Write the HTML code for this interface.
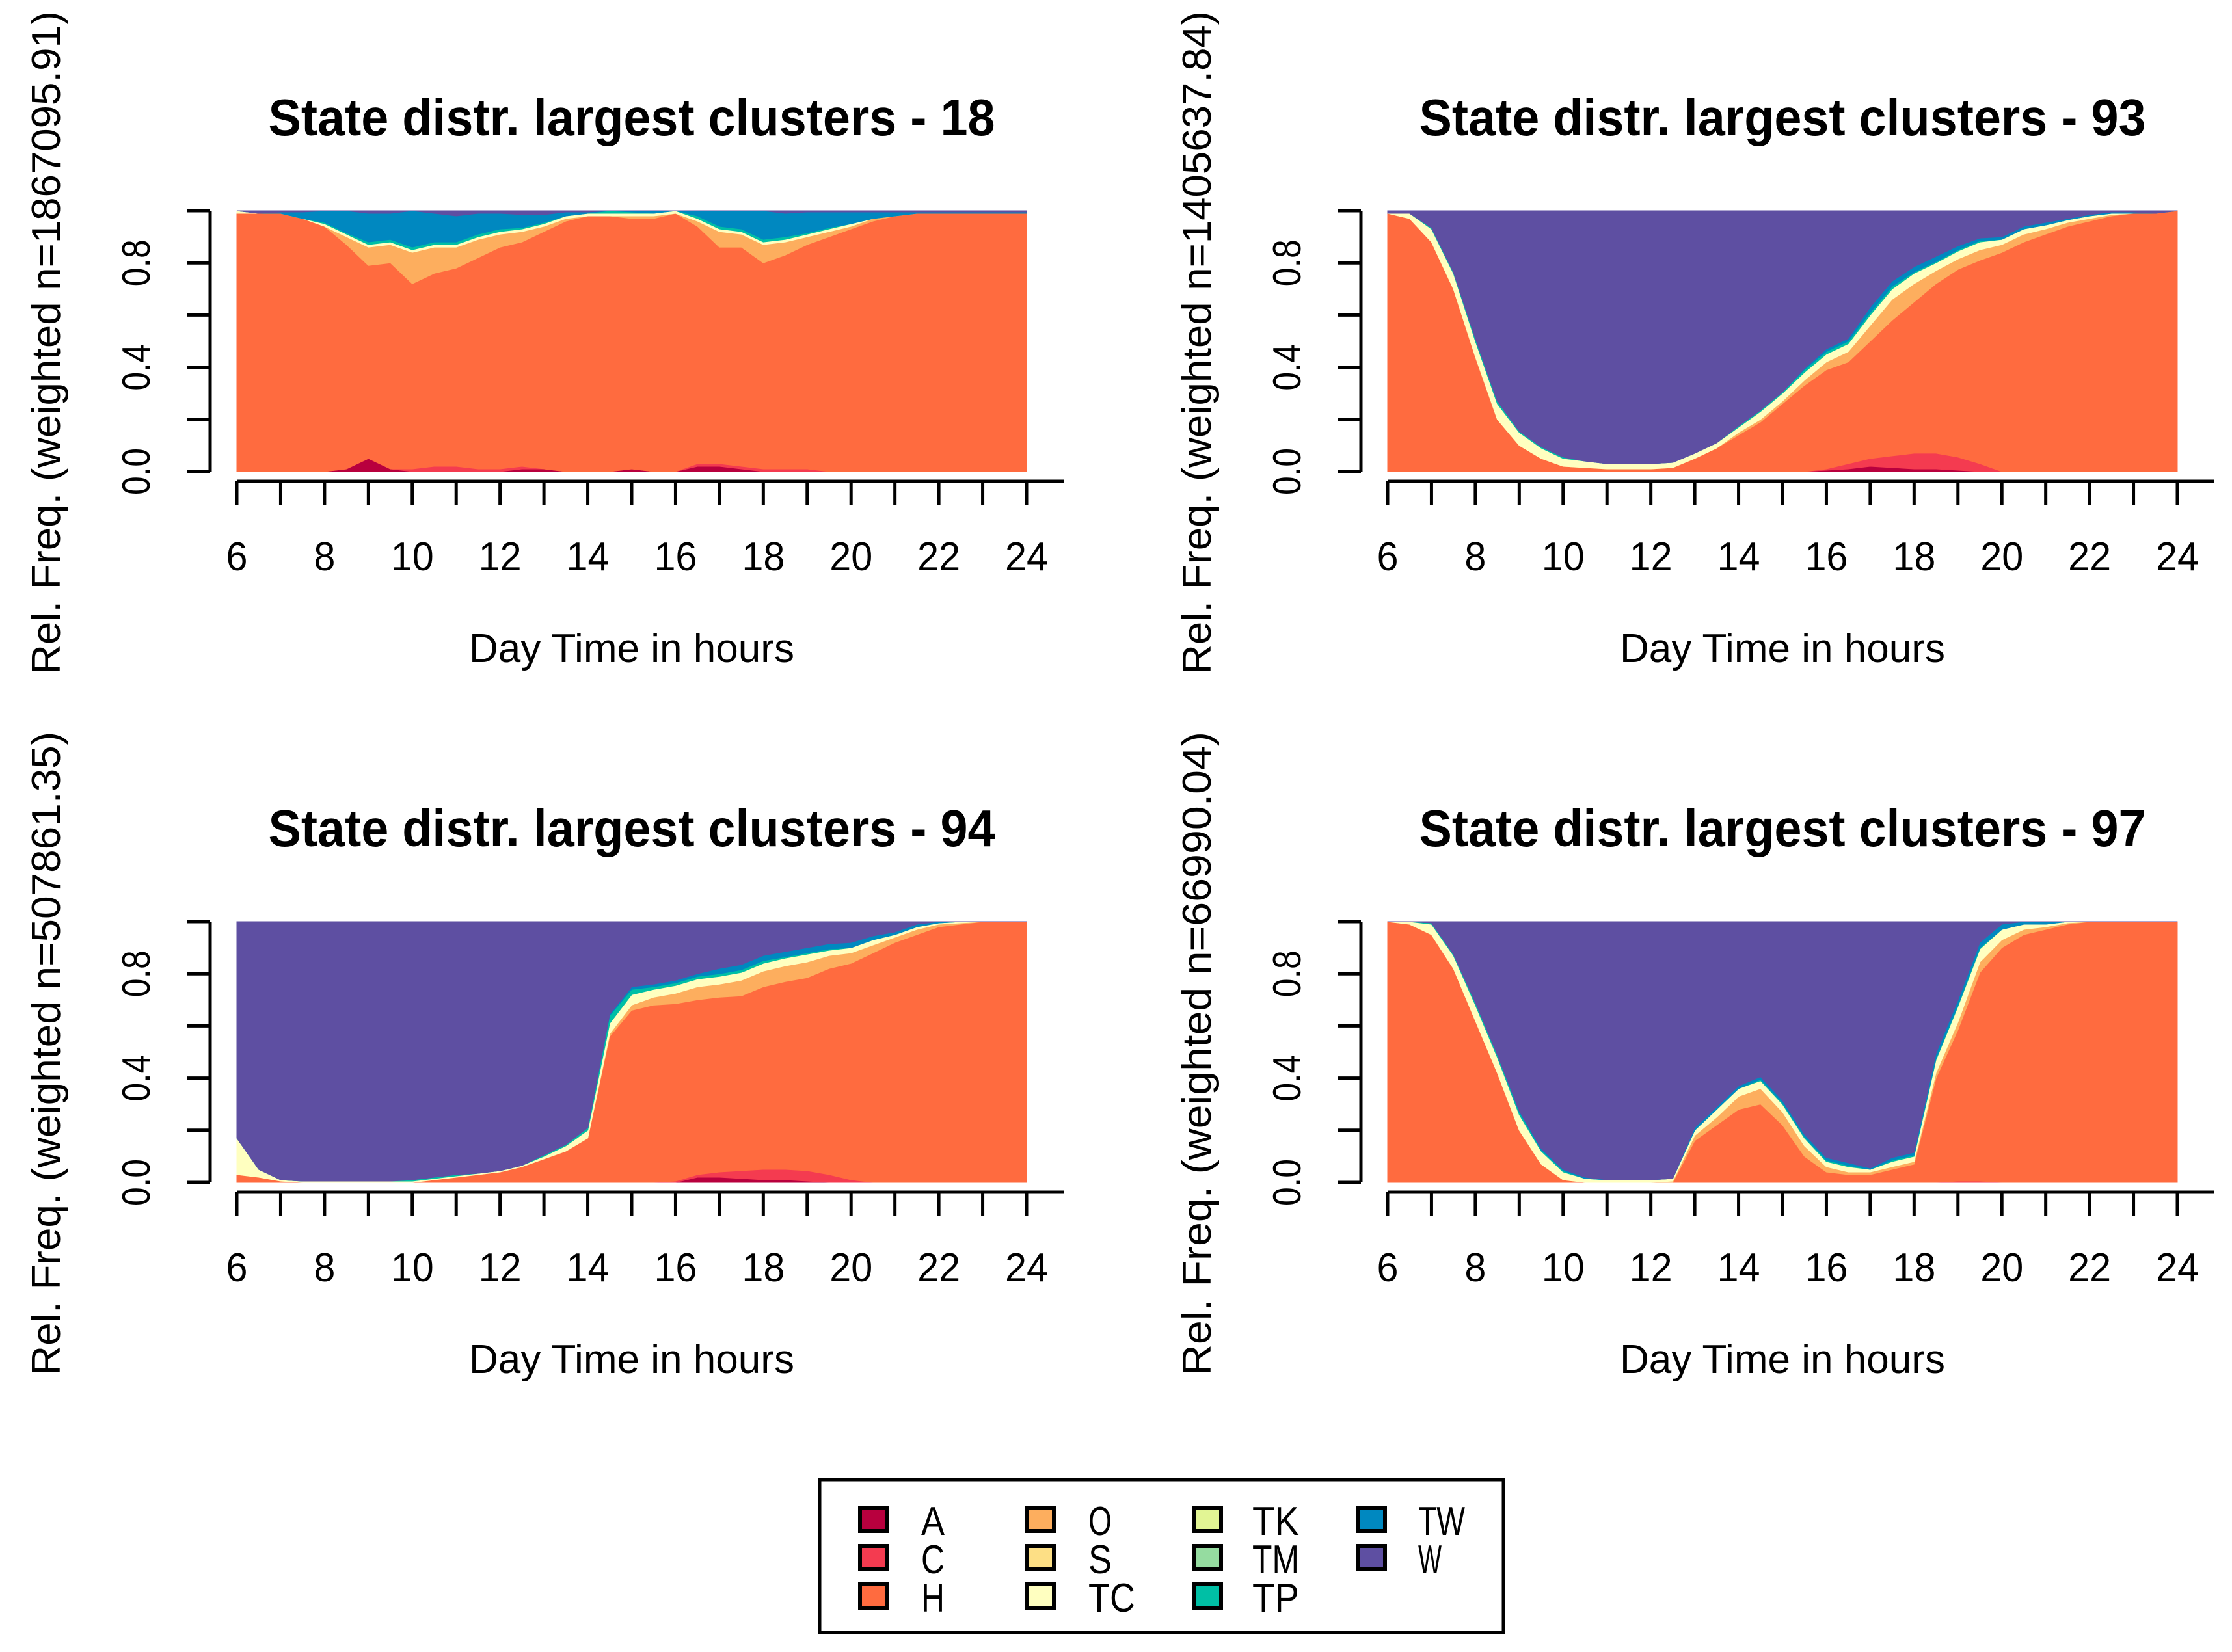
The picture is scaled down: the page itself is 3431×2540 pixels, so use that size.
<!DOCTYPE html>
<html><head><meta charset="utf-8">
<style>
html,body{margin:0;padding:0;background:#fff;}
svg{display:block;font-family:"Liberation Sans",sans-serif;}
</style></head>
<body>
<svg id="chart" width="3431" height="2540" viewBox="0 0 3431 2540" xmlns="http://www.w3.org/2000/svg">
<rect width="3431" height="2540" fill="#fff"/>
<g id="panels"></g>
<g id="legend"></g>
</svg>
<script>
// shared time grid (hours)
const hours = [6,6.5,7,7.5,8,8.5,9,9.5,10,10.5,11,11.5,12,12.5,13,13.5,14,14.5,15,15.5,16,16.5,17,17.5,18,18.5,19,19.5,20,20.5,21,21.5,22,22.5,23,23.5,24];
const xTicks = [6,7,8,9,10,11,12,13,14,15,16,17,18,19,20,21,22,23,24];
const xTickLabels = ["6","8","10","12","14","16","18","20","22","24"];
const yTicks = [0,0.2,0.4,0.6,0.8,1.0];
const yTickLabels = ["0.0","0.4","0.8"];
const states = ["A","C","H","O","S","TC","TK","TM","TP","TW","W"];
const stateColors = ["#B8003E","#F43B50","#FF6B3F","#FDAE5E","#FDDF85","#FFFFC0","#E2F594","#95DCA0","#00BFA5","#0088C0","#5E4FA2"];
const panelTitles = ["State distr. largest clusters - 18","State distr. largest clusters - 93","State distr. largest clusters - 94","State distr. largest clusters - 97"];
const panelYTitles = ["Rel. Freq. (weighted n=1867095.91)","Rel. Freq. (weighted n=1405637.84)","Rel. Freq. (weighted n=507861.35)","Rel. Freq. (weighted n=66990.04)"];

// Cluster 18
const c18_A = [0,0,0,0,0,0.01,0.05,0.01,0,0,0,0,0,0.01,0.01,0,0,0,0.01,0,0,0.02,0.02,0.01,0,0,0,0,0,0,0,0,0,0,0,0,0];
const c18_C = [0,0,0,0,0,0,0,0,0.01,0.02,0.02,0.01,0.01,0.01,0,0,0,0,0,0,0,0.01,0.01,0.01,0.01,0.01,0.01,0,0,0,0,0,0,0,0,0,0];
const c18_H = [0.99,0.99,0.99,0.97,0.94,0.86,0.74,0.79,0.71,0.74,0.76,0.81,0.85,0.86,0.91,0.96,0.98,0.98,0.96,0.97,0.99,0.91,0.83,0.84,0.79,0.82,0.86,0.9,0.93,0.96,0.98,0.99,0.99,0.99,0.99,0.99,0.99];
const c18_O = [0,0,0,0,0,0.03,0.07,0.07,0.12,0.1,0.08,0.07,0.05,0.04,0.02,0.01,0,0,0.01,0.01,0,0.02,0.06,0.05,0.07,0.05,0.03,0.02,0.01,0.01,0,0,0,0,0,0,0];
const c18_TC = [0.01,0,0,0,0.01,0.01,0.01,0.01,0.01,0.01,0.01,0.01,0.01,0.01,0.01,0.01,0.01,0.01,0.01,0.01,0.01,0.01,0.01,0.01,0.01,0.01,0.01,0.01,0.01,0,0,0,0,0,0,0,0];
const c18_TP = [0,0,0,0,0.005,0.005,0.01,0.01,0.01,0.01,0.01,0.01,0.01,0.005,0.005,0,0,0.01,0.005,0,0,0.01,0.01,0.01,0.01,0.01,0.005,0.005,0,0,0,0,0,0,0,0,0];
const c18_TW = [0,0,0.005,0.025,0.045,0.085,0.11,0.1,0.14,0.11,0.1,0.08,0.06,0.05,0.03,0.015,0.005,0.005,0.01,0.01,0,0.03,0.07,0.07,0.11,0.09,0.08,0.06,0.045,0.025,0.015,0.005,0.005,0.005,0.005,0.005,0.005];
// Cluster 93
const c93_A = [0,0,0,0,0,0,0,0,0,0,0,0,0,0,0,0,0,0,0,0,0.005,0.01,0.02,0.015,0.01,0.01,0.005,0,0,0,0,0,0,0,0,0,0];
const c93_C = [0,0,0,0,0,0,0,0,0,0,0,0,0,0,0,0,0,0,0,0,0.005,0.02,0.03,0.045,0.06,0.06,0.05,0.03,0,0,0,0,0,0,0,0,0];
const c93_H = [0.99,0.97,0.88,0.7,0.44,0.2,0.1,0.05,0.02,0.015,0.01,0.01,0.01,0.015,0.05,0.09,0.14,0.19,0.26,0.33,0.38,0.39,0.45,0.52,0.58,0.65,0.72,0.78,0.84,0.88,0.91,0.94,0.96,0.98,0.99,0.99,1];
const c93_O = [0,0,0,0,0,0,0,0,0,0,0,0,0,0,0,0,0.01,0.01,0.01,0.02,0.03,0.04,0.06,0.08,0.07,0.05,0.04,0.04,0.03,0.03,0.02,0.015,0.01,0.005,0,0,0];
const c93_TC = [0,0.02,0.05,0.06,0.06,0.06,0.05,0.04,0.03,0.025,0.02,0.02,0.02,0.02,0.02,0.02,0.02,0.03,0.03,0.03,0.03,0.03,0.04,0.04,0.04,0.03,0.03,0.03,0.02,0.02,0.015,0.01,0.01,0.005,0,0,0];
const c93_TP = [0,0,0.005,0.005,0.01,0.01,0.005,0.005,0.005,0,0,0,0,0,0,0,0.005,0.005,0.005,0.01,0.01,0.01,0.01,0.01,0.005,0.005,0.005,0.005,0,0,0,0,0,0,0,0,0];
const c93_TW = [0,0,0,0,0,0,0,0,0,0,0,0,0,0,0,0,0,0,0,0.005,0.01,0.01,0.02,0.02,0.02,0.02,0.015,0.01,0.01,0.01,0.01,0.005,0.005,0.005,0.005,0,0];
// Cluster 94
const c94_A = [0,0,0,0,0,0,0,0,0,0,0,0,0,0,0,0,0,0,0,0,0,0.02,0.02,0.015,0.01,0.01,0.005,0,0,0,0,0,0,0,0,0,0];
const c94_C = [0,0,0,0,0,0,0,0,0,0,0,0,0,0,0,0,0,0,0,0,0.005,0.01,0.02,0.03,0.04,0.04,0.04,0.03,0.01,0,0,0,0,0,0,0,0];
const c94_H = [0.03,0.02,0.005,0,0,0,0,0,0,0.01,0.02,0.03,0.04,0.06,0.09,0.12,0.17,0.56,0.66,0.68,0.68,0.67,0.67,0.67,0.7,0.72,0.74,0.79,0.83,0.88,0.92,0.95,0.98,0.99,1,1,1];
const c94_O = [0,0,0,0,0,0,0,0,0,0,0,0,0,0,0,0,0,0.01,0.02,0.03,0.04,0.05,0.05,0.06,0.06,0.06,0.06,0.05,0.04,0.03,0.02,0.02,0.01,0.005,0,0,0];
const c94_TC = [0.14,0.03,0.005,0.005,0.005,0.005,0.005,0.005,0.005,0.005,0.005,0.005,0.005,0.005,0.01,0.02,0.03,0.04,0.04,0.03,0.03,0.03,0.03,0.03,0.03,0.03,0.03,0.02,0.02,0.02,0.01,0.01,0.005,0.005,0,0,0];
const c94_TP = [0,0,0,0,0,0,0,0,0.005,0.005,0.005,0,0,0,0.005,0.005,0.01,0.03,0.02,0.01,0.01,0.01,0.01,0.01,0.01,0.005,0.005,0.005,0,0,0,0,0,0,0,0,0];
const c94_TW = [0,0,0,0,0,0,0,0,0,0,0,0,0,0,0,0,0,0.005,0.01,0.01,0.01,0.01,0.02,0.02,0.02,0.02,0.02,0.02,0.02,0.015,0.01,0.01,0.005,0.005,0,0,0];
// Cluster 97
const c97_A = [0,0,0,0,0,0,0,0,0,0,0,0,0,0,0,0,0,0,0,0,0,0,0,0,0,0,0,0,0,0,0,0,0,0,0,0,0];
const c97_C = [0,0,0,0,0,0,0,0,0,0,0,0,0,0,0,0,0,0,0,0,0,0,0,0,0,0,0.005,0.005,0,0,0,0,0,0,0,0,0];
const c97_H = [1,0.99,0.95,0.82,0.62,0.42,0.2,0.07,0.01,0,0,0,0,0,0.16,0.22,0.28,0.3,0.22,0.1,0.04,0.03,0.03,0.05,0.07,0.4,0.58,0.8,0.9,0.95,0.97,0.99,1,1,1,1,1];
const c97_O = [0,0,0,0,0,0,0,0,0,0,0,0,0,0.005,0.02,0.03,0.05,0.06,0.05,0.04,0.02,0.01,0.01,0.01,0.01,0.02,0.03,0.04,0.03,0.02,0.01,0.005,0,0,0,0,0];
const c97_TC = [0,0.01,0.04,0.05,0.06,0.06,0.06,0.05,0.03,0.015,0.01,0.01,0.01,0.01,0.02,0.03,0.03,0.03,0.03,0.03,0.02,0.02,0.01,0.02,0.02,0.05,0.06,0.05,0.04,0.02,0.01,0.005,0,0,0,0,0];
const c97_TP = [0,0,0.005,0.005,0.01,0.01,0.01,0.005,0.005,0,0,0,0,0,0,0,0,0.005,0.005,0.005,0.005,0.005,0,0.005,0.005,0.005,0.005,0.005,0,0,0,0,0,0,0,0,0];
const c97_TW = [0,0,0,0,0,0,0.005,0.005,0.005,0.005,0,0,0,0,0.01,0.01,0.01,0.01,0.01,0.01,0.01,0.01,0.005,0.01,0.01,0.02,0.02,0.02,0.02,0.01,0.01,0.005,0,0,0,0,0];

const panelData = [
  {A:c18_A,C:c18_C,H:c18_H,O:c18_O,TC:c18_TC,TP:c18_TP,TW:c18_TW},
  {A:c93_A,C:c93_C,H:c93_H,O:c93_O,TC:c93_TC,TP:c93_TP,TW:c93_TW},
  {A:c94_A,C:c94_C,H:c94_H,O:c94_O,TC:c94_TC,TP:c94_TP,TW:c94_TW},
  {A:c97_A,C:c97_C,H:c97_H,O:c97_O,TC:c97_TC,TP:c97_TP,TW:c97_TW}
];
const panelNames = ["cluster-18","cluster-93","cluster-94","cluster-97"];

const NS = "http://www.w3.org/2000/svg";
function mk(tag, attrs, parent){const e=document.createElementNS(NS,tag);for(const k in attrs)e.setAttribute(k,attrs[k]);parent.appendChild(e);return e;}
const panelsG = document.getElementById('panels');
const offsets = [[0,0],[1769,0],[0,1093],[1769,1093]];

offsets.forEach((off,pi)=>{
  const ox=off[0], oy=off[1];
  const X0=364+ox, X1=1578+ox, YB=725+oy, YT=324+oy;
  const xS = t => X0 + (t-6)*(X1-X0)/18;
  const yS = v => YB - v*(YB-YT);
  const g = mk('g',{},panelsG);
  
  
  const d = panelData[pi];
  // stacking
  let lower = hours.map(()=>0);
  states.forEach((s,si)=>{
    let vals;
    if (s==='W') vals = hours.map((_,i)=>Math.max(0,1-lower[i]));
    else if (d[s]) vals = d[s];
    else return;
    const upper = lower.map((l,i)=>Math.min(1,l+vals[i]));
    if (vals.some(v=>v>0)) {
      let pts=[];
      hours.forEach((t,i)=>pts.push(xS(t)+','+yS(upper[i])));
      for(let i=hours.length-1;i>=0;i--) pts.push(xS(hours[i])+','+yS(lower[i]));
      const poly = mk('polygon',{points:pts.join(' '),fill:stateColors[si],stroke:stateColors[si],'stroke-width':1},g);
      
      
    }
    lower = upper;
  });
  // y axis
  const ya = mk('g',{stroke:'#000','stroke-width':5},g);
  
  
  mk('line',{x1:323+ox,y1:yS(0),x2:323+ox,y2:yS(1)},ya);
  yTicks.forEach(v=>{mk('line',{x1:323+ox,y1:yS(v),x2:288+ox,y2:yS(v)},ya);});
  yTickLabels.forEach(l=>{
    const v=parseFloat(l);
    const t=mk('text',{x:0,y:0,transform:`translate(${230+ox},${yS(v)}) rotate(-90)`,'text-anchor':'middle','font-size':60,fill:'#000',textLength:72,lengthAdjust:'spacingAndGlyphs'},g);
    t.textContent=l;
    
    
  });
  // x axis
  const xa = mk('g',{stroke:'#000','stroke-width':5},g);
  
  
  mk('line',{x1:X0,y1:740+oy,x2:1635+ox,y2:740+oy},xa);
  xTicks.forEach(t=>{mk('line',{x1:xS(t),y1:740+oy,x2:xS(t),y2:777+oy},xa);});
  xTickLabels.forEach(l=>{
    const tv=parseFloat(l);
    const t=mk('text',{x:xS(tv),y:877+oy,'text-anchor':'middle','font-size':62,fill:'#000',textLength:l.length*33,lengthAdjust:'spacingAndGlyphs'},g);
    t.textContent=l;
    
    
  });
  // titles
  const tt=mk('text',{x:971+ox,y:208+oy,'text-anchor':'middle','font-size':80,'font-weight':'bold',fill:'#000',textLength:1117,lengthAdjust:'spacingAndGlyphs'},g);
  tt.textContent=panelTitles[pi];
  
  
  const xt=mk('text',{x:971+ox,y:1018+oy,'text-anchor':'middle','font-size':62,fill:'#000',textLength:500,lengthAdjust:'spacingAndGlyphs'},g);
  xt.textContent='Day Time in hours';
  
  
  const ytl = pi<2 ? 1020 : 990;
  const yt=mk('text',{x:0,y:0,transform:`translate(${92+ox},${(pi<2?527:1620)}) rotate(-90)`,'text-anchor':'middle','font-size':62,fill:'#000',textLength:ytl,lengthAdjust:'spacingAndGlyphs'},g);
  yt.textContent=panelYTitles[pi];
  
  
});

// legend
const lg=document.getElementById('legend');
mk('rect',{x:1260,y:2275,width:1051,height:235,fill:'#fff',stroke:'#000','stroke-width':5},lg);
const colX=[1322,1578,1835,2087], txX=[1416,1673,1925,2180], rowY=[2336,2395,2454];
states.forEach((s,i)=>{
  const c=Math.floor(i/3), r=i%3;
  const sq=mk('rect',{x:colX[c],y:rowY[r]-18,width:42,height:36,fill:stateColors[i],stroke:'#000','stroke-width':6},lg);
  
  
  const t=mk('text',{x:txX[c],y:rowY[r]+24,'font-size':62,fill:'#000',textLength:s.length*36,lengthAdjust:'spacingAndGlyphs'},lg);
  t.textContent=s;
  
  
});
</script>
</body></html>
